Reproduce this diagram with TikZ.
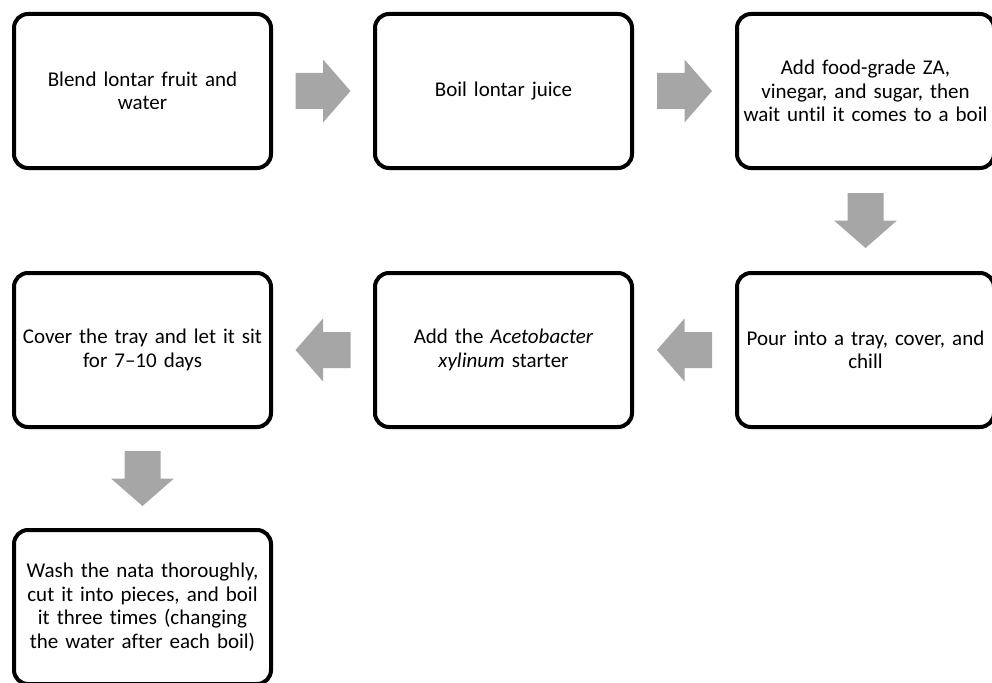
\documentclass[tikz,border=0pt]{standalone}
\usepackage{fontspec}
\setmainfont{Carlito}[Ligatures=NoCommon]
\usetikzlibrary{calc}
\definecolor{arrowgray}{RGB}{166,166,166}
\tikzset{
  stepbox/.style={draw=black, line width=4pt, rounded corners=14pt,
    minimum width=257pt, minimum height=154pt, inner sep=0pt,
    text width=254pt, align=center,
    font=\fontsize{21pt}{23.5pt}\selectfont},
  pics/blockarrow/.style={code={
    \fill[arrowgray] (-27.5,-18) -- (0,-18) -- (0,-31.5) -- (27.5,0)
      -- (0,31.5) -- (0,18) -- (-27.5,18) -- cycle;
  }}
}
\begin{document}
\begin{tikzpicture}[x=1pt,y=1pt]
\useasboundingbox (0,0) rectangle (992,-682);
\node[stepbox] (b1) at (142.5,-91) {Blend lontar fruit and\\water};
\node[stepbox] (b2) at (503.5,-91) {Boil lontar juice};
\node[stepbox] (b3) at (865.5,-91) {Add food-grade ZA,\\vinegar, and sugar, then\\wait until it comes to a boil};
\node[stepbox] (b4) at (865.5,-350) {Pour into a tray, cover, and\\chill};
\node[stepbox] (b5) at (503.5,-350) {Add the \textit{Acetobacter}\\\textit{xylinum} starter};
\node[stepbox] (b6) at (142.5,-350) {Cover the tray and let it sit\\for 7--10 days};
\node[stepbox] (b7) at (142.5,-607) {Wash the nata thoroughly,\\cut it into pieces, and boil\\it three times (changing\\the water after each boil)};
\path ($(b1.east)!0.5!(b2.west)$) pic[rotate=0] {blockarrow};
\path ($(b2.east)!0.5!(b3.west)$) pic[rotate=0] {blockarrow};
\path ($(b3.south)!0.5!(b4.north)$) pic[rotate=-90] {blockarrow};
\path ($(b4.west)!0.5!(b5.east)$) pic[rotate=180] {blockarrow};
\path ($(b5.west)!0.5!(b6.east)$) pic[rotate=180] {blockarrow};
\path ($(b6.south)!0.5!(b7.north)$) pic[rotate=-90] {blockarrow};
\end{tikzpicture}
\end{document}
